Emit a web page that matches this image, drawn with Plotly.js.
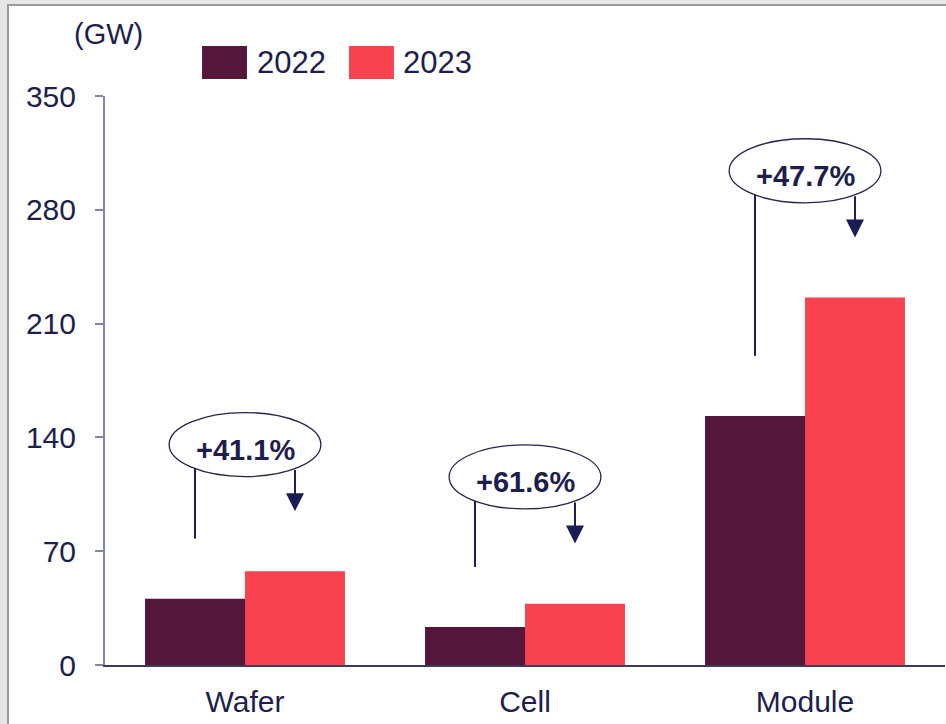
<!DOCTYPE html>
<html>
<head>
<meta charset="utf-8">
<script src="https://cdn.plot.ly/plotly-3.0.1.min.js"></script>
<style>
  html, body { margin: 0; padding: 0; background: #e6e6e6; width: 946px; height: 724px; overflow: hidden; }
  #frame { position: absolute; left: 7px; top: 4px; width: 939px; height: 720px;
           border-left: 2px solid #9a9a9a; border-top: 2px solid #9a9a9a; background: #ffffff; }
  #chart { width: 937px; height: 718px; }
</style>
</head>
<body>
<div id="frame"><div id="chart"></div></div>
<script>
// ---- data ----
const categories = ['Wafer', 'Cell', 'Module'];
const seriesNames = ['2022', '2023'];
const values2022 = [40.8, 23.3, 153.2];
const values2023 = [57.6, 37.7, 226.0];
const growthLabels = ['+41.1%', '+61.6%', '+47.7%'];
const yTickValues = [0, 70, 140, 210, 280, 350];
const unitLabel = '(GW)';

// ---- style ----
const colors = ['#55163c', '#f8424f'];
const navy = '#1c1c54';
const textColor = '#1e1e4c';
const font = 'Liberation Sans, Arial, sans-serif';
const bargap = 0.286;
const barHalf = (1 - bargap) / 4;   // distance of each bar centre from category centre
const ellipseRx = 0.271, ellipseRy = 19.7, bubbleLift = 78, lineLift = 37, edgeDrop = 14.8;

const traces = [
  { type: 'bar', name: seriesNames[0], x: categories, y: values2022,
    marker: { color: colors[0], line: { width: 0 } }, showlegend: false, hoverinfo: 'x+y' },
  { type: 'bar', name: seriesNames[1], x: categories, y: values2023,
    marker: { color: colors[1], line: { width: 0 } }, showlegend: false, hoverinfo: 'x+y' }
];

const shapes = [];
const annotations = [];

categories.forEach((c, i) => {
  const top = Math.max(values2022[i], values2023[i]);
  const cy = top + bubbleLift;
  // ellipse
  shapes.push({ type: 'circle', xref: 'x', yref: 'y',
    x0: i - ellipseRx, x1: i + ellipseRx, y0: cy - ellipseRy, y1: cy + ellipseRy,
    line: { color: '#24244a', width: 1.3 }, fillcolor: 'rgba(255,255,255,0)', layer: 'above' });
  // left line from 2022 bar up to ellipse
  shapes.push({ type: 'line', xref: 'x', yref: 'y',
    x0: i - barHalf, x1: i - barHalf, y0: values2022[i] + lineLift, y1: cy - edgeDrop,
    line: { color: navy, width: 2 } });
  // right arrow from ellipse down to 2023 bar
  annotations.push({ xref: 'x', yref: 'y', axref: 'x', ayref: 'y',
    x: i + barHalf, y: values2023[i] + lineLift, ax: i + barHalf, ay: cy - edgeDrop,
    text: '', showarrow: true, arrowhead: 2, arrowsize: 1.8, arrowwidth: 2, arrowcolor: navy, standoff: 0 });
  // growth label
  annotations.push({ xref: 'x', yref: 'y', x: i, y: cy, yshift: -5, text: '<b>' + growthLabels[i] + '</b>',
    showarrow: false, xanchor: 'center', yanchor: 'middle',
    font: { family: font, size: 29, color: textColor } });
});

// custom legend (large swatches)
const legendX = [[0.1155, 0.1690], [0.2905, 0.3440]];
const legendTextX = [0.1785, 0.3525];
seriesNames.forEach((n, k) => {
  shapes.push({ type: 'rect', xref: 'paper', yref: 'paper',
    x0: legendX[k][0], x1: legendX[k][1], y0: 1.0299, y1: 1.0879,
    fillcolor: colors[k], line: { width: 0 } });
  annotations.push({ xref: 'paper', yref: 'paper', x: legendTextX[k], y: 1.0585,
    text: n, showarrow: false, xanchor: 'left', yanchor: 'middle',
    font: { family: font, size: 31, color: textColor } });
});

// unit label
annotations.push({ xref: 'paper', yref: 'paper', x: 0.0, y: 1.109, xshift: 3,
  text: unitLabel, showarrow: false, xanchor: 'center', yanchor: 'middle',
  font: { family: font, size: 29, color: textColor } });

const layout = {
  width: 937, height: 718,
  margin: { l: 96, r: 1, t: 90, b: 59, pad: 0 },
  paper_bgcolor: '#ffffff', plot_bgcolor: '#ffffff',
  barmode: 'group', bargap: bargap, bargroupgap: 0,
  font: { family: font, color: textColor },
  xaxis: {
    type: 'category', range: [-0.5, 2.5], showgrid: false, zeroline: false,
    showline: true, linecolor: '#3c3c5a', linewidth: 2, ticks: '',
    tickfont: { family: font, size: 30, color: textColor }, ticklabelstandoff: 9,
    fixedrange: true
  },
  yaxis: {
    range: [0, 350], tickmode: 'array', tickvals: yTickValues, ticktext: yTickValues.map(String),
    showgrid: false, zeroline: false, showline: true, linecolor: '#8484a4', linewidth: 2,
    ticks: 'outside', ticklen: 8, tickwidth: 2, tickcolor: '#8484a4',
    tickfont: { family: font, size: 30, color: textColor }, ticklabelstandoff: 13,
    fixedrange: true
  },
  shapes: shapes,
  annotations: annotations,
  showlegend: false
};

Plotly.newPlot('chart', traces, layout, { displayModeBar: false, staticPlot: true });
</script>
</body>
</html>
